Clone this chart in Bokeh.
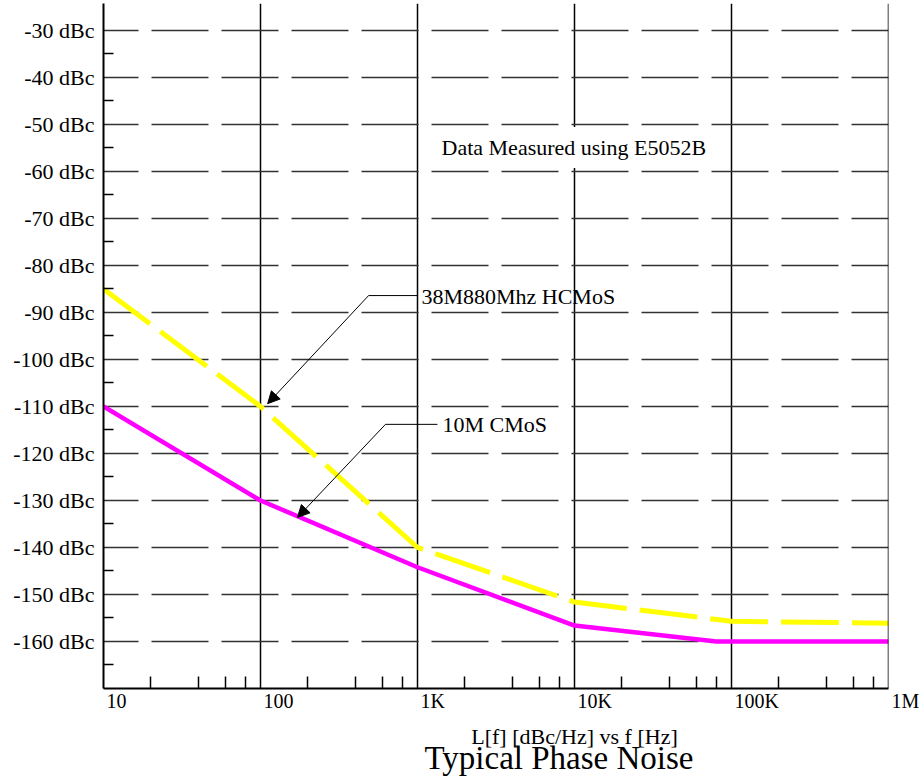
from bokeh.plotting import figure
from bokeh.models import (FixedTicker, Label, Arrow, NormalHead, Span,
                          ColumnDataSource)
from bokeh.core.properties import value
from bokeh.embed import file_html
from bokeh.resources import INLINE

# ---- data ----
freq_hcmos = [10, 100, 1e3, 1e4, 1e5, 1e6]
pn_hcmos = [-85, -110, -140, -151.6, -155.7, -156.1]      # 38M880Mhz HCMoS

freq_cmos = [10, 100, 1e3, 1e4, 8e4, 1e6]
pn_cmos = [-110, -130, -144.2, -156.6, -160, -160]        # 10M CMoS

x_ticks = [10, 100, 1000, 10000, 100000, 1000000]
x_tick_labels = ["10", "100", "1K", "10K", "100K", "1M"]
x_minor = [m * 10 ** k for k in range(1, 6) for m in (2, 4, 6, 8)]

y_ticks = list(range(-160, -29, 10))
y_tick_labels = [f"{t} dBc" for t in y_ticks]
y_minor = list(range(-165, -34, 10))

x_title = "L[f] [dBc/Hz] vs f [Hz]"
main_title = "Typical Phase Noise"

SERIF = "Liberation Serif"

p = figure(width=919, height=783, x_axis_type="log",
           x_range=(10, 1e6), y_range=(-170, -24.26),
           output_backend="svg", toolbar_location=None,
           min_border_left=103, min_border_right=31,
           min_border_top=3, min_border_bottom=95)
p.outline_line_color = None
p.background_fill_color = "white"
p.border_fill_color = "white"

# ---- x axis ----
xa = p.xaxis[0]
xa.ticker = FixedTicker(ticks=x_ticks, minor_ticks=x_minor)
xa.major_label_overrides = {t: "" for t in x_ticks}
xa.major_tick_in = 0
xa.major_tick_out = 0
xa.minor_tick_in = 12
xa.minor_tick_out = 0
xa.minor_tick_line_color = "black"
xa.minor_tick_line_width = 1.5
xa.axis_line_color = "black"
xa.axis_line_width = 2

# ---- y axis ----
ya = p.yaxis[0]
ya.ticker = FixedTicker(ticks=y_ticks, minor_ticks=y_minor)
ya.major_label_overrides = dict(zip(y_ticks, y_tick_labels))
ya.major_tick_in = 0
ya.major_tick_out = 0
ya.minor_tick_in = 10
ya.minor_tick_out = 0
ya.minor_tick_line_color = "black"
ya.minor_tick_line_width = 1.5
ya.axis_line_color = "black"
ya.axis_line_width = 2
ya.major_label_standoff = 9
ya.major_label_text_font = SERIF
ya.major_label_text_font_size = "22px"
ya.major_label_text_color = "black"

# ---- grids ----
p.xgrid.ticker = FixedTicker(ticks=x_ticks[1:-1])
p.xgrid.grid_line_color = "black"
p.xgrid.grid_line_width = 1.5
p.ygrid.ticker = FixedTicker(ticks=y_ticks)
p.ygrid.grid_line_color = "#333333"
p.ygrid.grid_line_width = 1.5
p.ygrid.grid_line_dash = "57 13"
p.ygrid.grid_line_dash_offset = 22

p.add_layout(Span(location=x_ticks[-1], dimension="height",
                  line_color="black", line_width=1.5))

# ---- curves ----
p.line(freq_hcmos, pn_hcmos, line_color="#FFFF00", line_width=5,
       line_dash="58 13")
p.line(freq_cmos, pn_cmos, line_color="#FF00FF", line_width=4.5)

# ---- x tick labels, left aligned at the tick ----
y0 = p.y_range.start
xlab = ColumnDataSource(dict(x=x_ticks, y=[y0] * len(x_ticks),
                             text=x_tick_labels))
p.text(x="x", y="y", text="text", source=xlab,
       text_font=value(SERIF), text_font_size="20px", text_color="black",
       text_align="left", text_baseline="middle",
       x_offset=3, y_offset=12, level="overlay")

# ---- titles below the axis ----
p.text(x=[1e4], y=[y0], text=[x_title],
       text_font=value(SERIF), text_font_size="22px", text_color="black",
       text_align="center", text_baseline="middle",
       y_offset=48, level="overlay")
p.text(x=[7960], y=[y0], text=[main_title],
       text_font=value(SERIF), text_font_size="33px", text_color="black",
       text_align="center", text_baseline="middle",
       y_offset=69, level="overlay")

# ---- annotations ----
p.add_layout(Label(x=1265, y=-54.9, text="Data Measured using E5052B",
                   text_font=SERIF, text_font_size="22px", text_color="black",
                   text_align="left", text_baseline="middle",
                   background_fill_color="white", padding=8))

head = dict(size=12, fill_color="black", line_color="black", line_width=1)
# 38M880Mhz HCMoS callout
p.add_layout(Arrow(end=None, x_start=488, y_start=-86.4, x_end=1000, y_end=-86.4,
                   line_color="black", line_width=1))
p.add_layout(Arrow(end=NormalHead(**head), x_start=488, y_start=-86.4,
                   x_end=111, y_end=-109.4, line_color="black", line_width=1))
p.add_layout(Label(x=1059, y=-86.6, text="38M880Mhz HCMoS",
                   text_font=SERIF, text_font_size="22px", text_color="black",
                   text_align="left", text_baseline="middle"))
# 10M CMoS callout
p.add_layout(Arrow(end=None, x_start=625, y_start=-113.8, x_end=1340, y_end=-113.8,
                   line_color="black", line_width=1))
p.add_layout(Arrow(end=NormalHead(**head), x_start=625, y_start=-113.8,
                   x_end=172, y_end=-133.6, line_color="black", line_width=1))
p.add_layout(Label(x=1443, y=-113.8, text="10M CMoS",
                   text_font=SERIF, text_font_size="22px", text_color="black",
                   text_align="left", text_baseline="middle"))

open("out.html", "w").write(file_html(p, INLINE))
